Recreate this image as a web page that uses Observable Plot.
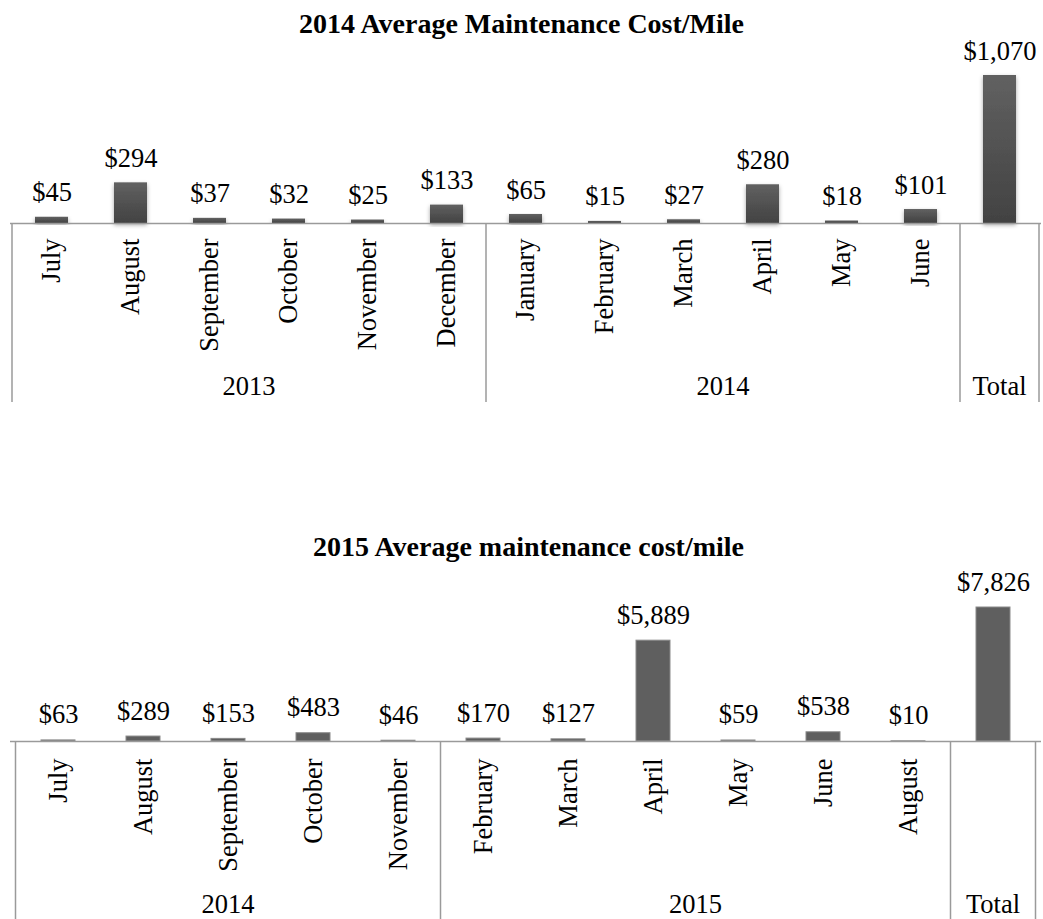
<!DOCTYPE html>
<html>
<head>
<meta charset="utf-8">
<script src="https://cdn.jsdelivr.net/npm/d3@7"></script>
<script src="https://cdn.jsdelivr.net/npm/@observablehq/plot@0.6"></script>
<style>
  body { margin: 0; background: #fff; width: 1043px; height: 919px; position: relative; overflow: hidden;
         font-family: "Liberation Serif", "Times New Roman", serif; }
  .title { position: absolute; left: 0; width: 1043px; box-sizing: border-box; text-align: center;
           font-weight: bold; font-size: 28px; line-height: 30px; color: #000; white-space: nowrap; }
  .chart { position: absolute; left: 0; }
</style>
</head>
<body>
<div class="title" style="top:9px">2014 Average Maintenance Cost/Mile</div>
<div id="c1" class="chart" style="top:40px"></div>
<div class="title" style="top:532px;padding-left:14px">2015 Average maintenance cost/mile</div>
<div id="c2" class="chart" style="top:570px"></div>
<script>
// ---------- Data: chart 1 ----------
const months1 = ["July","August","September","October","November","December","January","February","March","April","May","June",""];
const groups1 = ["2013","2013","2013","2013","2013","2013","2014","2014","2014","2014","2014","2014","Total"];
const values1 = [45, 294, 37, 32, 25, 133, 65, 15, 27, 280, 18, 101, 1070];

// ---------- Data: chart 2 ----------
const months2 = ["July","August","September","October","November","February","March","April","May","June","August",""];
const groups2 = ["2014","2014","2014","2014","2014","2015","2015","2015","2015","2015","2015","Total"];
const values2 = [63, 289, 153, 483, 46, 170, 127, 5889, 59, 538, 10, 7826];

const fmt = d3.format(",");
const FS = 26.5;

function drawChart(container, months, groups, values, opt) {
  const data = months.map((m, i) => ({
    key: groups[i] + "|" + m,
    month: m,
    group: groups[i],
    value: values[i],
    label: "$" + fmt(values[i])
  }));
  const keys = data.map(d => d.key);

  const marks = [];
  if (opt.gradient) {
    marks.push(() => {
      const defs = d3.create("svg:defs");
      const g = defs.append("linearGradient").attr("id", "barGrad").attr("x1", 0).attr("y1", 0).attr("x2", 0).attr("y2", 1);
      g.append("stop").attr("offset", "0%").attr("stop-color", "#616161");
      g.append("stop").attr("offset", "100%").attr("stop-color", "#424242");
      const f = defs.append("filter").attr("id", "barShadow").attr("x", "-30%").attr("y", "-10%").attr("width", "160%").attr("height", "130%");
      f.append("feDropShadow").attr("dx", 0).attr("dy", 2).attr("stdDeviation", 2.2).attr("flood-color", "#000").attr("flood-opacity", 0.35);
      return defs.node();
    });
  }
  marks.push(
    Plot.barY(data, {
      x: "key", y: "value",
      fill: opt.gradient ? "url(#barGrad)" : "#5f5f5f",
      stroke: opt.gradient ? "none" : "#8a8a8a",
      strokeWidth: 1
    }),
    Plot.ruleY([0], {stroke: "#9a9a9a", strokeWidth: 1.5}),
    Plot.text(data, {
      x: "key", y: "value", text: "label",
      lineAnchor: "bottom", dy: -opt.labelGap,
      fontSize: FS, fill: "#000"
    }),
    Plot.text(data, {
      x: "key", frameAnchor: "bottom", text: "month",
      rotate: -90, textAnchor: "end", lineAnchor: "middle",
      dy: opt.monthGap, fontSize: FS, fill: "#000"
    })
  );

  const chart = Plot.plot({
    width: 1043,
    height: opt.height,
    marginLeft: 10, marginRight: 2,
    marginTop: opt.marginTop, marginBottom: opt.marginBottom,
    x: {type: "band", domain: keys, paddingInner: opt.pad, paddingOuter: opt.pad / 2, axis: null},
    y: {domain: [0, opt.ymax], axis: null},
    style: {fontFamily: "Liberation Serif, Times New Roman, serif", background: "transparent", overflow: "visible"},
    marks
  });

  const svg = d3.select(chart);
  if (opt.gradient) svg.selectAll("rect").attr("filter", "url(#barShadow)");

  // group dividers and year labels, positioned from the library's scales
  const sx = chart.scale("x"), sy = chart.scale("y");
  const step = sx.step, bw = sx.bandwidth;
  const left = k => sx.apply(k) - (step - bw) / 2;
  const y0 = sy.apply(0);
  const groupNames = Array.from(new Set(groups));
  const layer = svg.append("g");
  const bounds = [];
  groupNames.forEach(gname => {
    const ks = data.filter(d => d.group === gname).map(d => d.key);
    const x1 = left(ks[0]), x2 = left(ks[ks.length - 1]) + step;
    bounds.push(x1, x2);
    layer.append("text")
      .attr("x", (x1 + x2) / 2).attr("y", y0 + opt.yearOffset)
      .attr("text-anchor", "middle").attr("font-size", FS).attr("fill", "#000")
      .text(gname);
  });
  Array.from(new Set(bounds.map(b => Math.round(b * 10) / 10))).forEach(bx => {
    layer.append("line")
      .attr("x1", bx).attr("x2", bx).attr("y1", y0).attr("y2", opt.height)
      .attr("stroke", "#9a9a9a").attr("stroke-width", 1.5);
  });

  document.getElementById(container).append(chart);
}

drawChart("c1", months1, groups1, values1, {
  height: 362, marginTop: 35, marginBottom: 179, ymax: 1070, pad: 0.58,
  labelGap: 16, monthGap: 15, yearOffset: 172, gradient: true
});
drawChart("c2", months2, groups2, values2, {
  height: 349, marginTop: 37, marginBottom: 178, ymax: 7826, pad: 0.6,
  labelGap: 17, monthGap: 17, yearOffset: 172, gradient: false
});
</script>
</body>
</html>
